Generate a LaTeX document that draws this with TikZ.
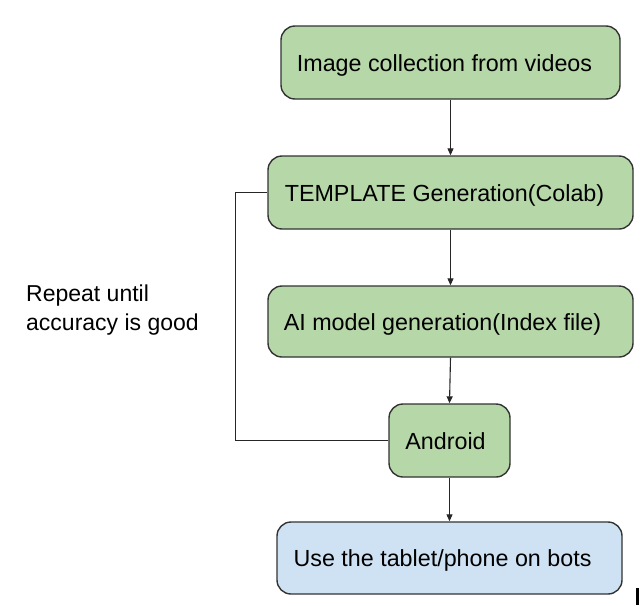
\documentclass[tikz,border=0pt]{standalone}
\usepackage{fontspec}
\setmainfont{Liberation Sans}
\usetikzlibrary{arrows.meta}
\definecolor{gfill}{HTML}{B6D7A8}
\definecolor{bfill}{HTML}{CFE2F3}
\definecolor{edge}{HTML}{333333}
\newcommand{\boxtxt}[2]{\hspace*{#1}#2}
\begin{document}
\begin{tikzpicture}[x=1pt,y=-1pt,
  box/.style={draw=edge, line width=1.4pt, rounded corners=14pt, inner sep=0pt,
    text height=21pt, text depth=4pt,
    font=\fontsize{23.3}{28}\selectfont},
  gbox/.style={box, fill=gfill},
  bbox/.style={box, fill=bfill},
  conn/.style={draw=black!85, line width=1.1pt},
  arr/.style={conn, -{Triangle[length=7pt,width=6pt]}},
  lbl/.style={font=\fontsize{23}{29}\selectfont, align=left, inner sep=0pt}]
\useasboundingbox (0,0) rectangle (644,605);
\node[gbox, minimum width=339pt, minimum height=73pt] (a) at (450.5,62.5) {\boxtxt{-12pt}{Image collection from videos}};
\node[gbox, minimum width=365pt, minimum height=73pt] (b) at (450.5,192.5) {\boxtxt{-12pt}{TEMPLATE Generation(Colab)}};
\node[gbox, minimum width=365pt, minimum height=71pt] (c) at (450.5,321.5) {\boxtxt{-16pt}{AI model generation(Index file)}};
\node[gbox, minimum width=121pt, minimum height=73pt] (d) at (449.5,440.5) {\boxtxt{-8pt}{Android}};
\node[bbox, minimum width=345pt, minimum height=72pt] (e) at (449.5,558) {\boxtxt{-14pt}{Use the tablet/phone on bots}};
\node[lbl, anchor=base west] (rep) at (26,330) {Repeat until\\accuracy is good};
\draw[arr] (a) -- (b);
\draw[arr] (b) -- (c);
\draw[arr] (c.south) -- (d.north);
\draw[arr] (d) -- (e);
\draw[conn] (d.west) -- ++(-153,0) |- (b.west);
\fill[black] (636,588) rectangle (639,605);
\end{tikzpicture}
\end{document}
